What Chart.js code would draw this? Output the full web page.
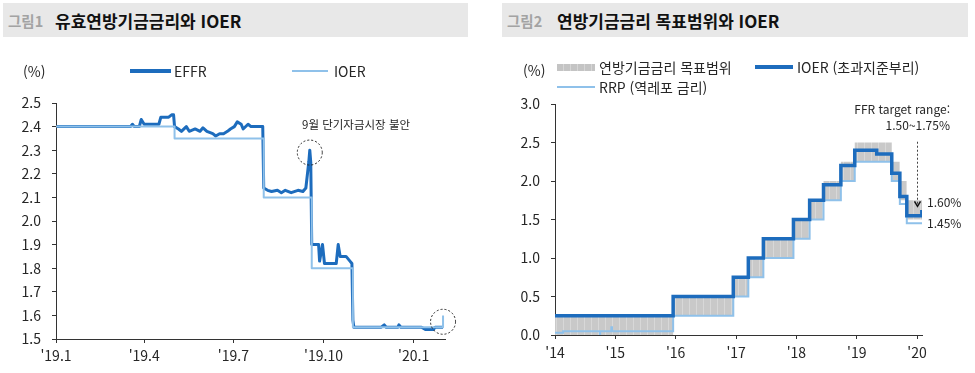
<!DOCTYPE html>
<html lang="ko">
<head>
<meta charset="utf-8">
<title>유효연방기금금리와 IOER</title>
<script src="https://cdn.jsdelivr.net/npm/chart.js@4.4.1/dist/chart.umd.min.js"></script>
<style>
    body{
        margin:0;
        width:975px;
        height:373px;
        background:#fff;
        position:relative;
        overflow:hidden;
        font-family:"Noto Sans CJK KR", "Noto Sans", sans-serif;
        color:#262626;
    }
    .titleBar{
        position:absolute;
        top:3px;
        height:34px;
        background:#e8e8e8;
        line-height:35px;
        font-weight:bold;
        color:#111;
        white-space:nowrap;
    }
    .titleBar .num{ color:#a3a3a3; position:absolute; font-size:14.5px; }
    .titleBar .txt{ position:absolute; font-size:17px; }
    .lbl{
        position:absolute;
        font-size:14px;
        line-height:18px;
        white-space:nowrap;
        color:#262626;
    }
    .note{
        position:absolute;
        font-size:12px;
        line-height:16px;
        white-space:nowrap;
        color:#262626;
    }
    .swatch{ position:absolute; }
    canvas{ position:absolute; top:0; }
</style>
</head>
<body>

<div class="titleBar" style="left:3px;width:465px;">
    <span class="num" style="left:5px;">그림1</span>
    <span class="txt" style="left:52px;">유효연방기금금리와 IOER</span>
</div>
<div class="titleBar" style="left:502px;width:466px;">
    <span class="num" style="left:5px;">그림2</span>
    <span class="txt" style="left:55px;">연방기금금리 목표범위와 IOER</span>
</div>

<canvas id="effrChart" width="480" height="373" style="left:0;"></canvas>
<canvas id="ffrChart" width="480" height="373" style="left:495px;"></canvas>

<!-- legend 1 -->
<div class="lbl" style="left:23px;top:62px;">(%)</div>
<div class="swatch" style="left:130px;top:69px;width:41px;height:4px;background:#1d6cbd;"></div>
<div class="lbl" style="left:174px;top:62px;">EFFR</div>
<div class="swatch" style="left:292px;top:70px;width:36px;height:2px;background:#8fc1ea;"></div>
<div class="lbl" style="left:334px;top:62px;">IOER</div>
<div class="note" style="left:302px;top:116px;font-size:11.5px;">9월 단기자금시장 불안</div>

<!-- legend 2 -->
<div class="lbl" style="left:523px;top:61px;">(%)</div>
<div class="swatch" style="left:557px;top:64px;width:38px;height:7px;background:repeating-linear-gradient(90deg,#c4c4c4 0 6px,#d6d6d6 6px 7px);"></div>
<div class="lbl" style="left:599px;top:58px;">연방기금금리 목표범위</div>
<div class="swatch" style="left:755px;top:65px;width:38px;height:4px;background:#1d6cbd;"></div>
<div class="lbl" style="left:797px;top:58px;">IOER (초과지준부리)</div>
<div class="swatch" style="left:557px;top:86px;width:38px;height:2px;background:#8fc1ea;"></div>
<div class="lbl" style="left:599px;top:78px;">RRP (역레포 금리)</div>
<div class="note" style="left:830px;width:120px;text-align:right;top:101px;">FFR target range:</div>
<div class="note" style="left:830px;width:120px;text-align:right;top:117px;">1.50~1.75%</div>
<div class="note" style="left:927px;top:194px;">1.60%</div>
<div class="note" style="left:927px;top:215px;">1.45%</div>

<script>

/* =========================
   DATA - 그림1
========================= */

const effrDates = [
    "2019-01-02","2019-03-18","2019-03-20","2019-03-22","2019-03-27","2019-03-29","2019-04-01",
    "2019-04-16","2019-04-18","2019-04-26","2019-04-29","2019-05-01","2019-05-02","2019-05-06",
    "2019-05-09","2019-05-14","2019-05-17","2019-05-23","2019-05-28","2019-05-31","2019-06-04",
    "2019-06-10","2019-06-13","2019-06-17","2019-06-21","2019-06-25","2019-06-28","2019-07-02",
    "2019-07-05","2019-07-09","2019-07-11","2019-07-16","2019-07-19","2019-07-25","2019-07-31",
    "2019-08-01","2019-08-05","2019-08-09","2019-08-15","2019-08-19","2019-08-23","2019-08-29",
    "2019-09-05","2019-09-10","2019-09-13","2019-09-16","2019-09-17","2019-09-18","2019-09-19",
    "2019-09-26","2019-09-27","2019-09-30","2019-10-02","2019-10-14","2019-10-16","2019-10-18",
    "2019-10-24","2019-10-28","2019-10-30","2019-10-31","2019-11-01","2019-11-29","2019-12-02",
    "2019-12-04","2019-12-16","2019-12-17","2019-12-19","2020-01-09","2020-01-13","2020-01-21",
    "2020-01-23","2020-01-31"
];
const effrValues = [
    2.40, 2.40, 2.41, 2.40, 2.40, 2.43, 2.41,
    2.41, 2.44, 2.44, 2.45, 2.45, 2.40, 2.39,
    2.38, 2.40, 2.38, 2.39, 2.38, 2.395, 2.38,
    2.37, 2.36, 2.37, 2.37, 2.38, 2.39, 2.40,
    2.42, 2.41, 2.39, 2.41, 2.40, 2.40, 2.40,
    2.14, 2.13, 2.125, 2.13, 2.12, 2.13, 2.12,
    2.13, 2.125, 2.14, 2.25, 2.30, 2.25, 1.90,
    1.90, 1.83, 1.90, 1.82, 1.82, 1.90, 1.85,
    1.85, 1.83, 1.82, 1.58, 1.55, 1.55, 1.56,
    1.55, 1.55, 1.56, 1.55, 1.55, 1.54, 1.54,
    1.55, 1.55
];

const ioerDates1 = ["2019-01-01","2019-05-02","2019-08-01","2019-09-19","2019-10-31","2020-01-31"];
const ioerValues1 = [2.40, 2.35, 2.10, 1.80, 1.55, 1.60];

const leftTickDates = ["2019-01-01","2019-04-01","2019-07-01","2019-10-01","2020-01-01"];
const leftTickLabels = ["'19.1","'19.4","'19.7","'19.10","'20.1"];

const circleDates = ["2019-09-17","2020-01-31"];
const circleValues = [2.29, 1.573];

/* =========================
   DATA - 그림2
========================= */

const rangeDates = [
    "2014-01-01","2015-12-17","2016-12-15","2017-03-16","2017-06-15","2017-12-14","2018-03-22",
    "2018-06-14","2018-09-27","2018-12-20","2019-08-01","2019-09-19","2019-10-31","2020-01-31"
];
const rangeLow  = [0.00, 0.25, 0.50, 0.75, 1.00, 1.25, 1.50, 1.75, 2.00, 2.25, 2.00, 1.75, 1.50, 1.50];
const rangeHigh = [0.25, 0.50, 0.75, 1.00, 1.25, 1.50, 1.75, 2.00, 2.25, 2.50, 2.25, 2.00, 1.75, 1.75];

const ioerDates2 = [
    "2014-01-01","2015-12-17","2016-12-15","2017-03-16","2017-06-15","2017-12-14","2018-03-22",
    "2018-06-14","2018-09-27","2018-12-20","2019-05-02","2019-08-01","2019-09-19","2019-10-31",
    "2020-01-30","2020-01-31"
];
const ioerValues2 = [0.25, 0.50, 0.75, 1.00, 1.25, 1.50, 1.75, 1.95, 2.20, 2.40, 2.35, 2.10, 1.80, 1.55, 1.60, 1.60];

const rrpDates = [
    "2014-01-01","2014-02-19","2014-09-30","2014-10-01","2014-12-08","2014-12-12","2015-12-17",
    "2016-12-15","2017-03-16","2017-06-15","2017-12-14","2018-03-22","2018-06-14","2018-09-27",
    "2018-12-20","2019-08-01","2019-09-19","2019-10-31","2020-01-31"
];
const rrpValues = [0.03, 0.05, 0.00, 0.05, 0.10, 0.05, 0.25, 0.50, 0.75, 1.00, 1.25, 1.50, 1.75, 2.00, 2.25, 2.00, 1.70, 1.45, 1.45];

const rightTickDates = ["2014-01-01","2015-01-01","2016-01-01","2017-01-01","2018-01-01","2019-01-01","2020-01-01"];
const rightTickLabels = ["'14","'15","'16","'17","'18","'19","'20"];

// 화살표 (FFR target range)
const arrowDate = "2020-01-01";
const arrowFrom = 2.51;
const arrowTo = 1.67;

/* =========================
   HELPERS
========================= */

const FONT = '"Noto Sans CJK KR", "Noto Sans", sans-serif';
const DARK = "#1d6cbd";
const LIGHT = "#8fc1ea";
const AXIS = "#333";

function dayOf(str, base){
    return (Date.parse(str) - Date.parse(base)) / 86400000;
}

function toPoints(dates, values, base){
    return dates.map(function(d, i){
        return { x: dayOf(d, base), y: values[i] };
    });
}

function stripes(){
    const c = document.createElement("canvas");
    c.width = 7;
    c.height = 4;
    const g = c.getContext("2d");
    g.fillStyle = "#c9c9c9";
    g.fillRect(0, 0, 7, 4);
    g.fillStyle = "#d8d8d8";
    g.fillRect(5, 0, 1, 4);
    return g.createPattern(c, "repeat");
}

function axisX(min, max, tickDays, tickLabels, height, pad){
    return {
        type: "linear",
        min: min,
        max: max,
        afterBuildTicks: function(axis){
            axis.ticks = tickDays.map(function(v){ return { value: v }; });
        },
        afterFit: function(scale){ scale.height = height; },
        grid: { display: true, drawOnChartArea: false, drawTicks: true, tickLength: 4, color: AXIS },
        border: { display: true, color: AXIS, width: 1 },
        ticks: {
            autoSkip: false,
            maxRotation: 0,
            padding: pad,
            color: "#262626",
            font: { family: FONT, size: 14 },
            callback: function(v){
                const i = tickDays.indexOf(v);
                return i >= 0 ? tickLabels[i] : "";
            }
        }
    };
}

function axisY(min, max, step, width){
    return {
        min: min,
        max: max,
        afterFit: function(scale){ scale.width = width; },
        grid: { display: true, drawOnChartArea: false, drawTicks: true, tickLength: 4, color: AXIS },
        border: { display: true, color: AXIS, width: 1 },
        ticks: {
            stepSize: step,
            padding: 11,
            color: "#262626",
            font: { family: FONT, size: 14 },
            callback: function(v){ return Number(v).toFixed(1); }
        }
    };
}

/* =========================
   그림1 : EFFR vs IOER
========================= */

const base1 = "2019-01-01";

const circlePlugin = {
    id: "dotCircles",
    afterDatasetsDraw: function(chart){
        const ctx = chart.ctx;
        const x = chart.scales.x;
        const y = chart.scales.y;
        ctx.save();
        ctx.setLineDash([2, 2]);
        ctx.strokeStyle = "#222";
        ctx.lineWidth = 1;
        circleDates.forEach(function(d, i){
            ctx.beginPath();
            ctx.arc(x.getPixelForValue(dayOf(d, base1)), y.getPixelForValue(circleValues[i]), 12.5, 0, Math.PI * 2);
            ctx.stroke();
        });
        ctx.restore();
    }
};

new Chart(document.getElementById("effrChart"), {
    type: "line",
    data: {
        datasets: [{
            label: "IOER",
            data: toPoints(ioerDates1, ioerValues1, base1),
            borderColor: LIGHT,
            borderWidth: 2,
            stepped: true,
            order: 0
        },{
            label: "EFFR",
            data: toPoints(effrDates, effrValues, base1),
            borderColor: DARK,
            borderWidth: 3,
            order: 1
        }]
    },
    options: {
        responsive: false,
        animation: false,
        devicePixelRatio: 1,
        layout: { padding: { top: 103, right: 35, bottom: 0, left: 0 } },
        elements: { point: { radius: 0 }, line: { tension: 0, borderJoinStyle: "round" } },
        plugins: { legend: { display: false }, tooltip: { enabled: false } },
        scales: {
            x: axisX(0, 397, leftTickDates.map(function(d){ return dayOf(d, base1); }), leftTickLabels, 34, 4),
            y: axisY(1.5, 2.5, 0.1, 56)
        }
    },
    plugins: [circlePlugin]
});

/* =========================
   그림2 : 목표범위, IOER, RRP
========================= */

const base2 = "2014-01-01";

const arrowPlugin = {
    id: "rangeArrow",
    afterDatasetsDraw: function(chart){
        const ctx = chart.ctx;
        const px = Math.round(chart.scales.x.getPixelForValue(dayOf(arrowDate, base2))) + 0.5;
        const y0 = chart.scales.y.getPixelForValue(arrowFrom);
        const y1 = chart.scales.y.getPixelForValue(arrowTo);
        ctx.save();
        ctx.setLineDash([2, 2]);
        ctx.strokeStyle = "#444";
        ctx.lineWidth = 1;
        ctx.beginPath();
        ctx.moveTo(px, y0);
        ctx.lineTo(px, y1 - 2);
        ctx.stroke();
        ctx.setLineDash([]);
        ctx.strokeStyle = "#111";
        ctx.lineWidth = 1.5;
        ctx.beginPath();
        ctx.moveTo(px - 3, y1 - 5);
        ctx.lineTo(px, y1);
        ctx.lineTo(px + 3, y1 - 5);
        ctx.stroke();
        ctx.restore();
    }
};

new Chart(document.getElementById("ffrChart"), {
    type: "line",
    data: {
        datasets: [{
            label: "하단",
            data: toPoints(rangeDates, rangeLow, base2),
            borderWidth: 0,
            borderColor: "rgba(0,0,0,0)",
            stepped: true,
            fill: false,
            order: 3
        },{
            label: "연방기금금리 목표범위",
            data: toPoints(rangeDates, rangeHigh, base2),
            borderWidth: 0,
            borderColor: "rgba(0,0,0,0)",
            backgroundColor: stripes(),
            stepped: true,
            fill: 0,
            order: 2
        },{
            label: "RRP (역레포 금리)",
            data: toPoints(rrpDates, rrpValues, base2),
            borderColor: LIGHT,
            borderWidth: 2,
            stepped: true,
            order: 1
        },{
            label: "IOER (초과지준부리)",
            data: toPoints(ioerDates2, ioerValues2, base2),
            borderColor: DARK,
            borderWidth: 3.5,
            stepped: true,
            order: 0
        }]
    },
    options: {
        responsive: false,
        animation: false,
        devicePixelRatio: 1,
        layout: { padding: { top: 104, right: 53, bottom: 0, left: 0 } },
        elements: { point: { radius: 0 }, line: { tension: 0 } },
        plugins: { legend: { display: false }, tooltip: { enabled: false } },
        scales: {
            x: axisX(0, dayOf("2020-01-31", base2), rightTickDates.map(function(d){ return dayOf(d, base2); }), rightTickLabels, 38, 5),
            y: axisY(0, 3, 0.5, 60)
        }
    },
    plugins: [arrowPlugin]
});

</script>
</body>
</html>
